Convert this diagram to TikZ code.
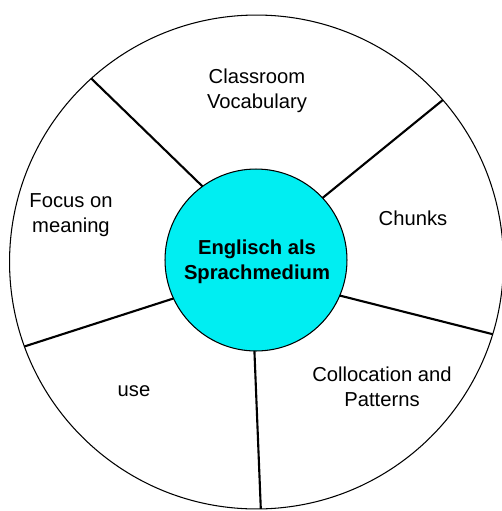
\documentclass[tikz,border=0pt]{standalone}
\usepackage{fontspec}
\setmainfont{Liberation Sans}
\usepackage{tikz}
\definecolor{hubcyan}{RGB}{0,238,242}
\tikzset{l/.style={font=\fontsize{11.5}{14}\selectfont, align=center}}
\tikzset{spoke/.style={line width=1.2pt}}

\begin{document}
\begin{tikzpicture}[x=0.02cm,y=-0.02cm]
        \useasboundingbox (0,0) rectangle (502,511);
        \node (rim) [circle, draw, line width=0.6pt, minimum size=9.88cm, inner sep=0pt, outer sep=0pt] at (256.5,262) {};
        \node (hub) [circle, draw, fill=hubcyan, line width=0.6pt, minimum size=3.64cm, inner sep=0pt, outer sep=0pt] at (256,260) {};
        \draw[spoke] (hub.126.9) -- (rim.132.6);
        \draw[spoke] (hub.43.3) -- (rim.41.5);
        \draw[spoke] (hub.-23.8) -- (rim.-17.2);
        \draw[spoke] (hub.-91.2) -- (rim.-89.4);
        \draw[spoke] (hub.205) -- (rim.200);
        \node[l, font=\fontsize{11.5}{14}\selectfont\bfseries] (title) at (257,262) {Englisch als\\Sprachmedium};
        \node[l] (vocab) at (257,91) {Classroom\\Vocabulary};
        \node[l] (chunks) at (413,218) {Chunks};
        \node[l] (colloc) at (382,387) {Collocation and\\Patterns};
        \node[l] (use) at (134,391) {use};
        \node[l] (focus) at (71,215) {Focus on\\meaning};
      \end{tikzpicture}
\end{document}
